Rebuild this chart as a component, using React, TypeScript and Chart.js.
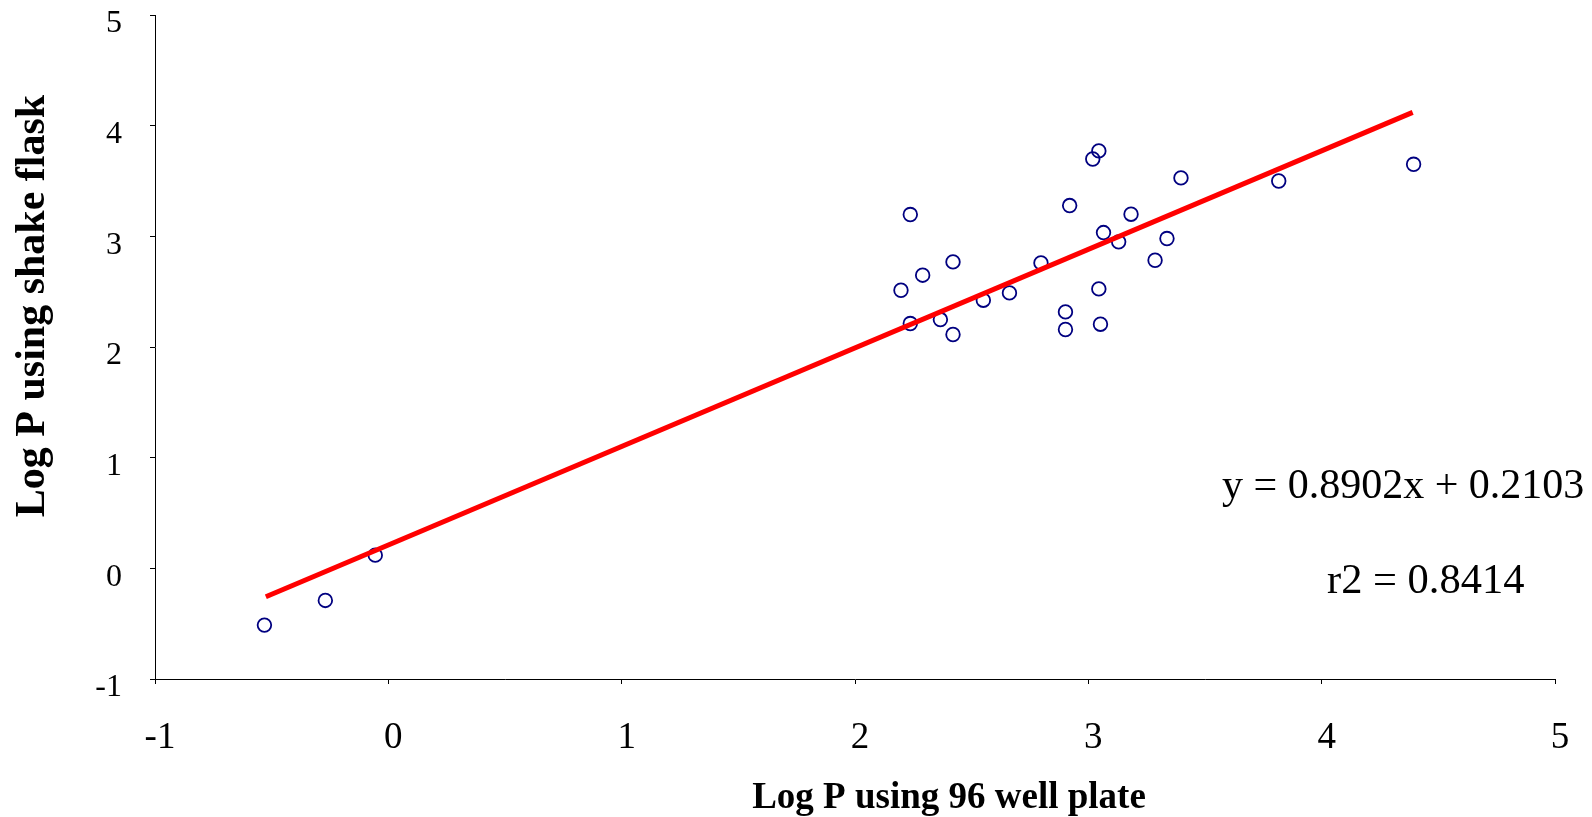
import React, { useEffect, useRef } from "react";
import { Chart, registerables } from "chart.js";

Chart.register(...registerables);

// Measured data (Log P 96 well plate vs Log P shake flask)
const xValues = [
  -0.531, -0.27, -0.056, 2.197, 2.237, 2.29, 2.42, 2.237, 2.366, 2.42, 2.55, 2.662, 2.797, 2.92,
  2.902, 2.902, 3.019, 3.045, 3.065, 3.13, 3.045, 3.052, 3.183, 3.286, 3.337, 3.397, 3.816, 4.394,
];
const yValues = [
  -0.513, -0.29, 0.119, 2.513, 3.197, 2.649, 2.769, 2.212, 2.248, 2.113, 2.423, 2.489, 2.76, 3.278,
  2.317, 2.158, 3.699, 3.772, 3.034, 2.95, 2.525, 2.206, 3.2, 2.784, 2.98, 3.528, 3.5, 3.651,
];

// Trend line end points
const trendX = [-0.525, 4.39];
const trendY = [-0.257, 4.12];

const xTicks = [-1, 0, 1, 2, 3, 4, 5];
const yTicks = [-1, 0, 1, 2, 3, 4, 5];

const xTitle = "Log P using 96 well plate";
const yTitle = "Log P using shake flask";
const equationText = "y = 0.8902x + 0.2103";
const r2Text = "r2 = 0.8414";

const SERIF = "'Liberation Serif', 'Times New Roman', serif";

export default function App() {
  const canvasRef = useRef<HTMLCanvasElement>(null);

  useEffect(() => {
    document.body.style.margin = "0";
    const canvas = canvasRef.current;
    if (!canvas) return;

    const annotations = {
      id: "annotations",
      afterDraw(chart: any) {
        const ctx = chart.ctx;
        ctx.save();
        ctx.fillStyle = "#000";
        ctx.textBaseline = "alphabetic";

        // x axis title
        ctx.font = `bold 37px ${SERIF}`;
        ctx.textAlign = "center";
        ctx.fillText(xTitle, 949, 808);

        // equation + r2
        ctx.font = `42px ${SERIF}`;
        ctx.textAlign = "left";
        ctx.fillText(equationText, 1222, 498);
        ctx.font = `42.5px ${SERIF}`;
        ctx.fillText(r2Text, 1327, 593);

        // y axis title
        ctx.translate(44, 306);
        ctx.rotate(-Math.PI / 2);
        ctx.font = `bold 42px ${SERIF}`;
        ctx.textAlign = "center";
        ctx.fillText(yTitle, 0, 0);
        ctx.restore();
      },
    };

    const chart = new Chart(canvas, {
      type: "scatter",
      data: {
        datasets: [
          {
            type: "line",
            label: "Trend",
            data: trendX.map((x, i) => ({ x, y: trendY[i] })),
            borderColor: "#ff0000",
            borderWidth: 5,
            pointRadius: 0,
            fill: false,
            order: 0,
          } as any,
          {
            label: "Data",
            data: xValues.map((x, i) => ({ x, y: yValues[i] })),
            pointStyle: "circle",
            pointRadius: 6.8,
            pointBorderWidth: 1.8,
            pointBorderColor: "#000080",
            pointBackgroundColor: "rgba(0,0,0,0)",
            showLine: false,
            order: 1,
          },
        ],
      },
      options: {
        responsive: false,
        animation: false,
        events: [],
        layout: { padding: { top: 15, right: 37, left: 0, bottom: 0 } },
        plugins: { legend: { display: false }, tooltip: { enabled: false } },
        scales: {
          x: {
            type: "linear",
            min: -1,
            max: 5,
            afterBuildTicks: (s: any) => {
              s.ticks = xTicks.map((v) => ({ value: v }));
            },
            afterFit: (s: any) => {
              s.height = 138;
              s.paddingLeft = 0;
              s.paddingRight = 0;
            },
            ticks: {
              color: "#000",
              font: { family: SERIF, size: 37 },
              padding: 32,
              labelOffset: 5,
              maxRotation: 0,
              autoSkip: false,
            },
            grid: { drawOnChartArea: false, drawTicks: true, tickLength: 5, color: "#000" },
            border: { color: "#000", width: 1 },
          },
          y: {
            type: "linear",
            min: -1,
            max: 5,
            afterBuildTicks: (s: any) => {
              s.ticks = yTicks.map((v) => ({ value: v }));
            },
            afterFit: (s: any) => {
              s.width = 155;
              s.paddingTop = 0;
              s.paddingBottom = 0;
            },
            ticks: {
              color: "#000",
              font: { family: SERIF, size: 32 },
              padding: 28,
              labelOffset: 9,
              autoSkip: false,
            },
            grid: { drawOnChartArea: false, drawTicks: true, tickLength: 5, color: "#000" },
            border: { color: "#000", width: 1 },
          },
        },
      },
      plugins: [annotations],
    });

    return () => chart.destroy();
  }, []);

  return (
    <div style={{ width: 1592, height: 817, position: "relative", background: "#fff" }}>
      <canvas ref={canvasRef} width={1592} height={817} style={{ display: "block" }} />
    </div>
  );
}
